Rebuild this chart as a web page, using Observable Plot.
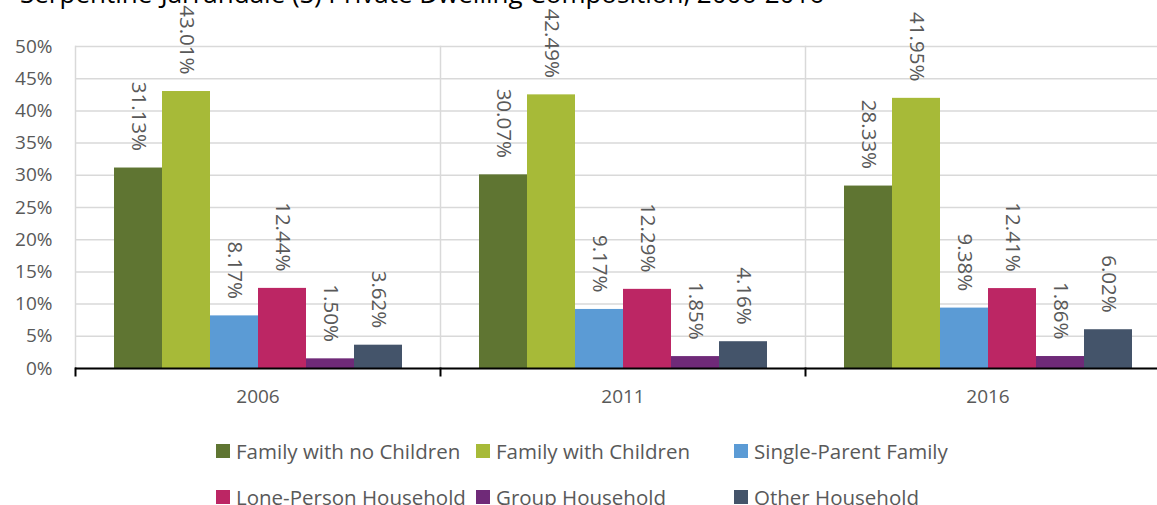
<!DOCTYPE html>
<html>
<head>
<meta charset="utf-8">
<script src="https://cdn.jsdelivr.net/npm/d3@7"></script>
<script src="https://cdn.jsdelivr.net/npm/@observablehq/plot@0.6"></script>
<style>
  html, body { margin: 0; padding: 0; background: #fff; overflow: hidden; }
  #wrap { position: relative; width: 1157px; height: 505px; overflow: hidden; font-family: "Open Sans", sans-serif; }
  #chart { position: absolute; left: 0; top: 0; }
  #title { position: absolute; left: 20px; top: -20px; font-size: 26px; line-height: 26px; color: #000; white-space: nowrap; }
  .item { position: absolute; height: 20px; display: flex; align-items: center; font-size: 20.5px; line-height: 20px; color: #595959; white-space: nowrap; }
  .sw { width: 14px; height: 14px; margin-right: 6px; flex: none; }
</style>
</head>
<body>
<div id="wrap">
  <div id="chart"></div>
  <div id="title"></div>
  <div id="legend"></div>
</div>
<script>
const title = "Serpentine-Jarrahdale (S) Private Dwelling Composition, 2006-2016";
const years = ["2006", "2011", "2016"];
const categories = ["Family with no Children", "Family with Children", "Single-Parent Family", "Lone-Person Household", "Group Household", "Other Household"];
const colors = ["#5F7532", "#A7BA38", "#5B9BD5", "#BC2664", "#6F2A78", "#44546A"];
const values2006 = [31.13, 43.01, 8.17, 12.44, 1.50, 3.62];
const values2011 = [30.07, 42.49, 9.17, 12.29, 1.85, 4.16];
const values2016 = [28.33, 41.95, 9.38, 12.41, 1.86, 6.02];
const yTicks = [0, 5, 10, 15, 20, 25, 30, 35, 40, 45, 50];

const series = [values2006, values2011, values2016];
const rows = [];
years.forEach((y, i) => categories.forEach((c, j) => rows.push({year: y, cat: c, value: series[i][j]})));

document.getElementById("title").textContent = title;

const chart = Plot.plot({
  width: 1180,
  height: 420,
  marginLeft: 75,
  marginRight: 10,
  marginTop: 46,
  marginBottom: 52,
  style: {maxWidth: "none", overflow: "visible", fontFamily: "Open Sans", fontSize: "19px", color: "#595959", background: "transparent"},
  facet: {data: rows, x: "year"},
  fx: {domain: years, padding: 0, axis: "bottom", label: null, tickSize: 0, tickPadding: 21},
  x: {domain: categories, axis: null, paddingInner: 0, paddingOuter: 0.75},
  y: {domain: [0, 50], ticks: yTicks, tickFormat: d => d + "%", tickSize: 0, tickPadding: 23, label: null, line: true},
  color: {domain: categories, range: colors},
  marks: [
    Plot.ruleY(yTicks, {stroke: "#d9d9d9", strokeWidth: 1.5}),
    Plot.frame({anchor: "left", stroke: "#d9d9d9", strokeWidth: 1.5}),
    Plot.frame({anchor: "left", stroke: "#000", strokeWidth: 2, insetTop: 322, insetBottom: -7}),
    Plot.barY(rows, {x: "cat", y: "value", fill: "cat"}),
    Plot.ruleY([0], {stroke: "#000", strokeWidth: 2}),
    Plot.text(rows, {x: "cat", y: "value", text: d => d.value.toFixed(2) + "%", rotate: 90, textAnchor: "end", dy: -17, fontSize: 20.5, fill: "#595959"})
  ]
});
document.getElementById("chart").appendChild(chart);

const legend = document.getElementById("legend");
const colX = [216, 476, 734];
const rowY = [441, 487];
categories.forEach((c, i) => {
  const d = document.createElement("div");
  d.className = "item";
  d.style.left = colX[i % 3] + "px";
  d.style.top = rowY[Math.floor(i / 3)] + "px";
  const s = document.createElement("span");
  s.className = "sw";
  s.style.background = colors[i];
  const t = document.createElement("span");
  t.textContent = c;
  d.appendChild(s);
  d.appendChild(t);
  legend.appendChild(d);
});
</script>
</body>
</html>
